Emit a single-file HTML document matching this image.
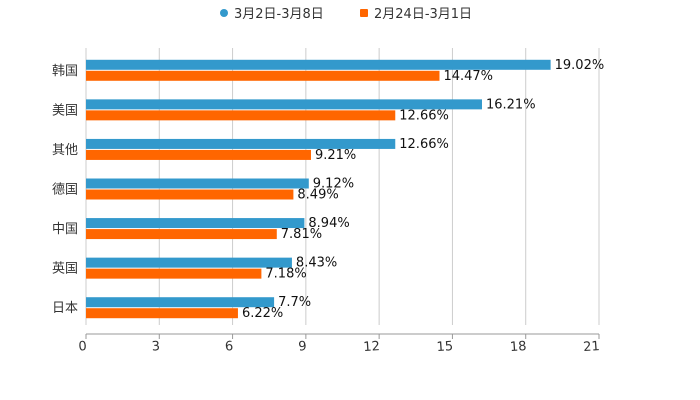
<!DOCTYPE html>
<html><head><meta charset="utf-8"><style>
body{margin:0;background:#fff}
svg{display:block;font-family:"DejaVu Sans","Noto Sans CJK SC",sans-serif}
</style></head><body>
<svg id="chart" width="700" height="400">
<g id="legend">
<g><circle cx="224" cy="13" r="4" fill="#3399CC"/><text x="234" y="18" font-size="13" fill="#333">3月2日-3月8日</text></g>
<g><rect x="360" y="9" width="8" height="8" rx="1" fill="#FF6600"/><text x="374" y="18" font-size="13" fill="#333">2月24日-3月1日</text></g>
</g>
<g id="grid"></g>
<g id="bars"></g>
<g id="axes"></g>
</svg>
<script>
const categories=["韩国","美国","其他","德国","中国","英国","日本"];
const seriesA=[19.02,16.21,12.66,9.12,8.94,8.43,7.7];
const seriesB=[14.47,12.66,9.21,8.49,7.81,7.18,6.22];
const ticks=[0,3,6,9,12,15,18,21];
const NS="http://www.w3.org/2000/svg";
const L=86,R=599,T=48,B=325,MAX=21;
const x=v=>L+(R-L)*v/MAX;
const band=(B-T)/categories.length;
function mk(tag,attrs,parent,txt){const e=document.createElementNS(NS,tag);for(const k in attrs)e.setAttribute(k,attrs[k]);if(txt!==undefined)e.textContent=txt;parent.appendChild(e);return e;}
const grid=document.getElementById('grid'),bars=document.getElementById('bars'),axes=document.getElementById('axes');
ticks.forEach(t=>{
 const g=mk('line',{x1:x(t),x2:x(t),y1:T,y2:B,stroke:'#ccc','stroke-width':1},grid);
 
 
 const tk=mk('line',{x1:x(t),x2:x(t),y1:334,y2:339,stroke:'#999'},axes);
 
 
 const lb=mk('text',{x:x(t)+1,y:350,'font-size':13,fill:'#333','text-anchor':'end',transform:`rotate(-4 ${x(t)+1} 350)`},axes,String(t));
 
 
});
const ax=mk('line',{x1:L,x2:R,y1:334,y2:334,stroke:'#999'},axes);


categories.forEach((c,i)=>{
 const cy=T+band*(i+0.5)+2;
 const cl=mk('text',{x:78,y:cy+5,'font-size':13,fill:'#333','text-anchor':'end'},axes,c);
 
 
 const a=mk('rect',{x:L,y:cy-10,width:x(seriesA[i])-L,height:10,fill:'#3399CC'},bars);
 
 
 const b=mk('rect',{x:L,y:cy+1,width:x(seriesB[i])-L,height:10,fill:'#FF6600'},bars);
 
 
 const la=mk('text',{x:x(seriesA[i])+4,y:cy-1,'font-size':13,fill:'#111'},bars,seriesA[i]+'%');
 
 
 const lbb=mk('text',{x:x(seriesB[i])+4,y:cy+10,'font-size':13,fill:'#111'},bars,seriesB[i]+'%');
 
 
});
</script>
</body></html>
